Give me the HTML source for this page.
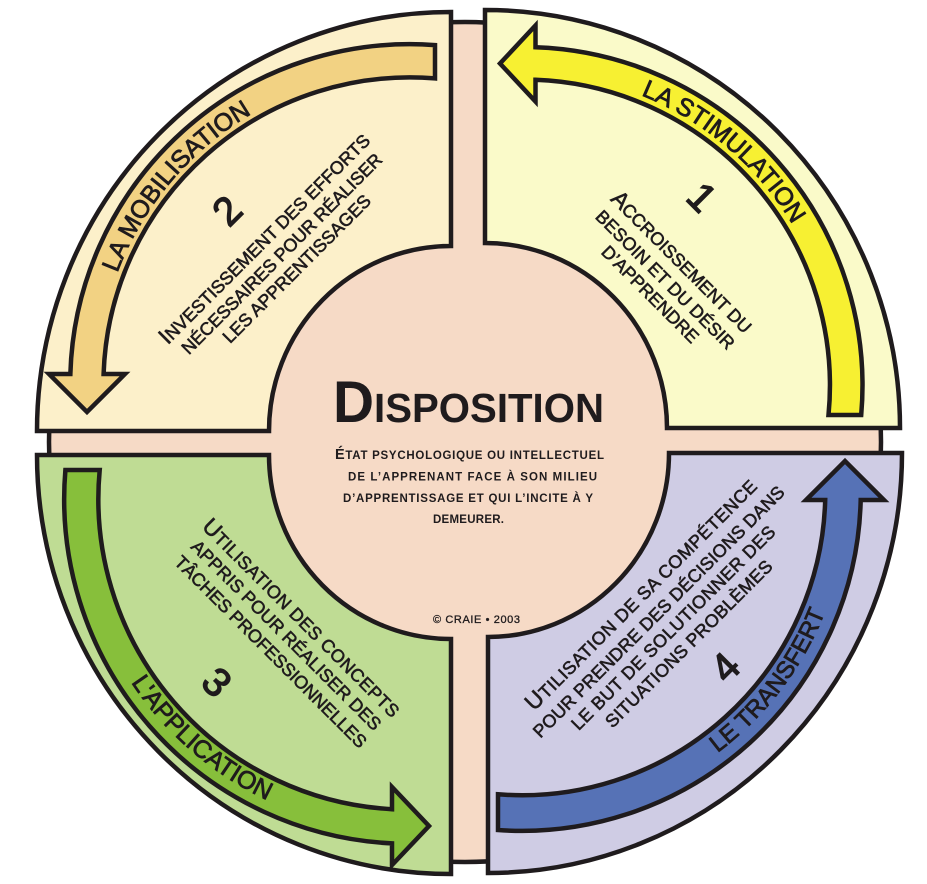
<!DOCTYPE html>
<html><head><meta charset="utf-8"><style>
html,body{margin:0;padding:0;background:#fff;}
svg{display:block;}
</style></head><body>
<svg width="927" height="884" viewBox="0 0 927 884" xmlns="http://www.w3.org/2000/svg" font-family="'Liberation Sans', Arial, sans-serif">
<defs>
<path id="p1" d="M 605,83.2 A 313 313 0 0 1 809.9,258.2"/>
<path id="p2" d="M 107.7,303 A 313 313 0 0 1 279.7,99.4"/>
<path id="p3" d="M 104.8,634.4 A 333 333 0 0 0 318.3,819.4"/>
<path id="p4" d="M 685,774.3 A 326 326 0 0 0 837.2,575.3"/>
</defs>

<ellipse cx="465" cy="442" rx="416" ry="420" fill="#F6DAC6" stroke="#1F1B1D" stroke-width="4.5"/>

<g stroke="#1F1B1D" stroke-width="4.5" stroke-linejoin="miter">
  <path d="M 451,12 A 414 419 0 0 0 37,431 L 269,431 A 182 185 0 0 1 451,246 Z" fill="#FCF0CA"/>
  <path d="M 485,10 A 415 418 0 0 1 900,428 L 667,428 A 182 185 0 0 0 485,243 Z" fill="#FAFAC9"/>
  <path d="M 37,455 A 414 419 0 0 0 451,874 L 451,639 A 182 184 0 0 1 269,455 Z" fill="#BFDC94"/>
  <path d="M 902,453 A 414 420 0 0 1 488,873 L 488,637 A 181 184 0 0 0 669,453 Z" fill="#CFCCE4"/>

  <path d="M 828.5,415 A 305.9 305.9 0 0 0 535.5,79.8 L 535.5,101.5 L 500,63.5 L 535.5,25.5 L 535.5,47.2 A 338.5 338.5 0 0 1 861.2,415 Z" fill="#F7F032"/>
  <path d="M 435,45.1 A 339.8 339.8 0 0 0 70.35,374 L 49,374 L 87,412 L 125,374 L 103.6,374 A 306.6 306.6 0 0 1 435,78.4 Z" fill="#F2D283"/>
  <path d="M 65.4,470 A 344.8 344.8 0 0 0 392,843.4 L 392,865 L 429,826 L 392,787 L 392,809.2 A 310.7 310.7 0 0 1 99.7,470 Z" fill="#87BF3B"/>
  <path d="M 498,794.3 A 303.3 303.3 0 0 0 825.2,500 L 806,500 L 845,461 L 884,500 L 860.7,500 A 338.8 338.8 0 0 1 498,830 Z" fill="#5672B6"/>
</g>

<g fill="#1F1B1D" stroke="#1F1B1D" stroke-width="0.8">
  <text font-size="25"><textPath href="#p1" startOffset="50%" text-anchor="middle">LA STIMULATION</textPath></text>
  <text font-size="25"><textPath href="#p2" startOffset="50%" text-anchor="middle">LA MOBILISATION</textPath></text>
  <text font-size="25"><textPath href="#p3" startOffset="50%" text-anchor="middle">L'APPLICATION</textPath></text>
  <text font-size="24"><textPath href="#p4" startOffset="50%" text-anchor="middle">LE TRANSFERT</textPath></text>
</g>

<g fill="#1F1B1D" stroke="#1F1B1D" stroke-width="0.6">
  <g font-size="18">
    <text transform="translate(265,239) rotate(-45)" x="-144" y="6.5" textLength="288"><tspan font-size="23">I</tspan>NVESTISSEMENT DES EFFORTS</text>
    <text transform="translate(281.5,253.5) rotate(-45)" x="-137.5" y="6.5" textLength="275">NÉCESSAIRES POUR RÉALISER</text>
    <text transform="translate(296.5,268.5) rotate(-45)" x="-100.5" y="6.5" textLength="201">LES APPRENTISSAGES</text>
  </g>
  <g font-size="18">
    <text transform="translate(681.5,262.5) rotate(45)" x="-95" y="6.5" textLength="190"><tspan font-size="23">A</tspan>CCROISSEMENT DU</text>
    <text transform="translate(665.5,279.5) rotate(45)" x="-94" y="6.5" textLength="188">BESOIN ET DU DÉSIR</text>
    <text transform="translate(650.5,294) rotate(45)" x="-64.5" y="6.5" textLength="129">D’APPRENDRE</text>
  </g>
  <g font-size="18">
    <text transform="translate(301,618.5) rotate(45)" x="-135" y="6.5" textLength="270"><tspan font-size="23">U</tspan>TILISATION DES CONCEPTS</text>
    <text transform="translate(286.5,635) rotate(45)" x="-130" y="6.5" textLength="260">APPRIS POUR RÉALISER DES</text>
    <text transform="translate(271,651.5) rotate(45)" x="-131.5" y="6.5" textLength="263">TÂCHES PROFESSIONNELLES</text>
  </g>
  <g font-size="18">
    <text transform="translate(641.5,595) rotate(-45)" x="-158.5" y="6.5" textLength="317"><tspan font-size="23">U</tspan>TILISATION DE SA COMPÉTENCE</text>
    <text transform="translate(658.5,611.5) rotate(-45)" x="-173.5" y="6.5" textLength="347">POUR PRENDRE DES DÉCISIONS DANS</text>
    <text transform="translate(673,627.5) rotate(-45)" x="-140" y="6.5" textLength="280">LE BUT DE SOLUTIONNER DES</text>
    <text transform="translate(688.5,643.5) rotate(-45)" x="-114" y="6.5" textLength="228">SITUATIONS PROBLÈMES</text>
  </g>
</g>

<g fill="#1F1B1D" stroke="#1F1B1D" stroke-width="1.3" font-size="40">
  <text transform="translate(227,210.5) rotate(-45)" x="0" y="14" text-anchor="middle">2</text>
  <text transform="translate(702,197) rotate(45)" x="0" y="14" text-anchor="middle">1</text>
  <text transform="translate(217,682) rotate(45)" x="0" y="14" text-anchor="middle">3</text>
  <text transform="translate(725,667) rotate(-45)" x="0" y="14" text-anchor="middle">4</text>
</g>

<g fill="#1F1B1D">
  <text x="333" y="422" textLength="271" lengthAdjust="spacingAndGlyphs" font-weight="bold"><tspan font-size="58">D</tspan><tspan font-size="41">ISPOSITION</tspan></text>
  <g font-weight="bold" font-size="11.5">
    <text x="335" y="459" textLength="269"><tspan font-size="14.5">É</tspan>TAT PSYCHOLOGIQUE OU INTELLECTUEL</text>
    <text x="348" y="480.5" textLength="249">DE L’APPRENANT FACE À SON MILIEU</text>
    <text x="343" y="502" textLength="250">D’APPRENTISSAGE ET QUI L’INCITE À Y</text>
    <text x="433" y="523" textLength="71">DEMEURER.</text>
  </g>
  <text x="433" y="623" textLength="87" font-size="11" stroke="#1F1B1D" stroke-width="0.3">© CRAIE • 2003</text>
</g>
</svg>
</body></html>
